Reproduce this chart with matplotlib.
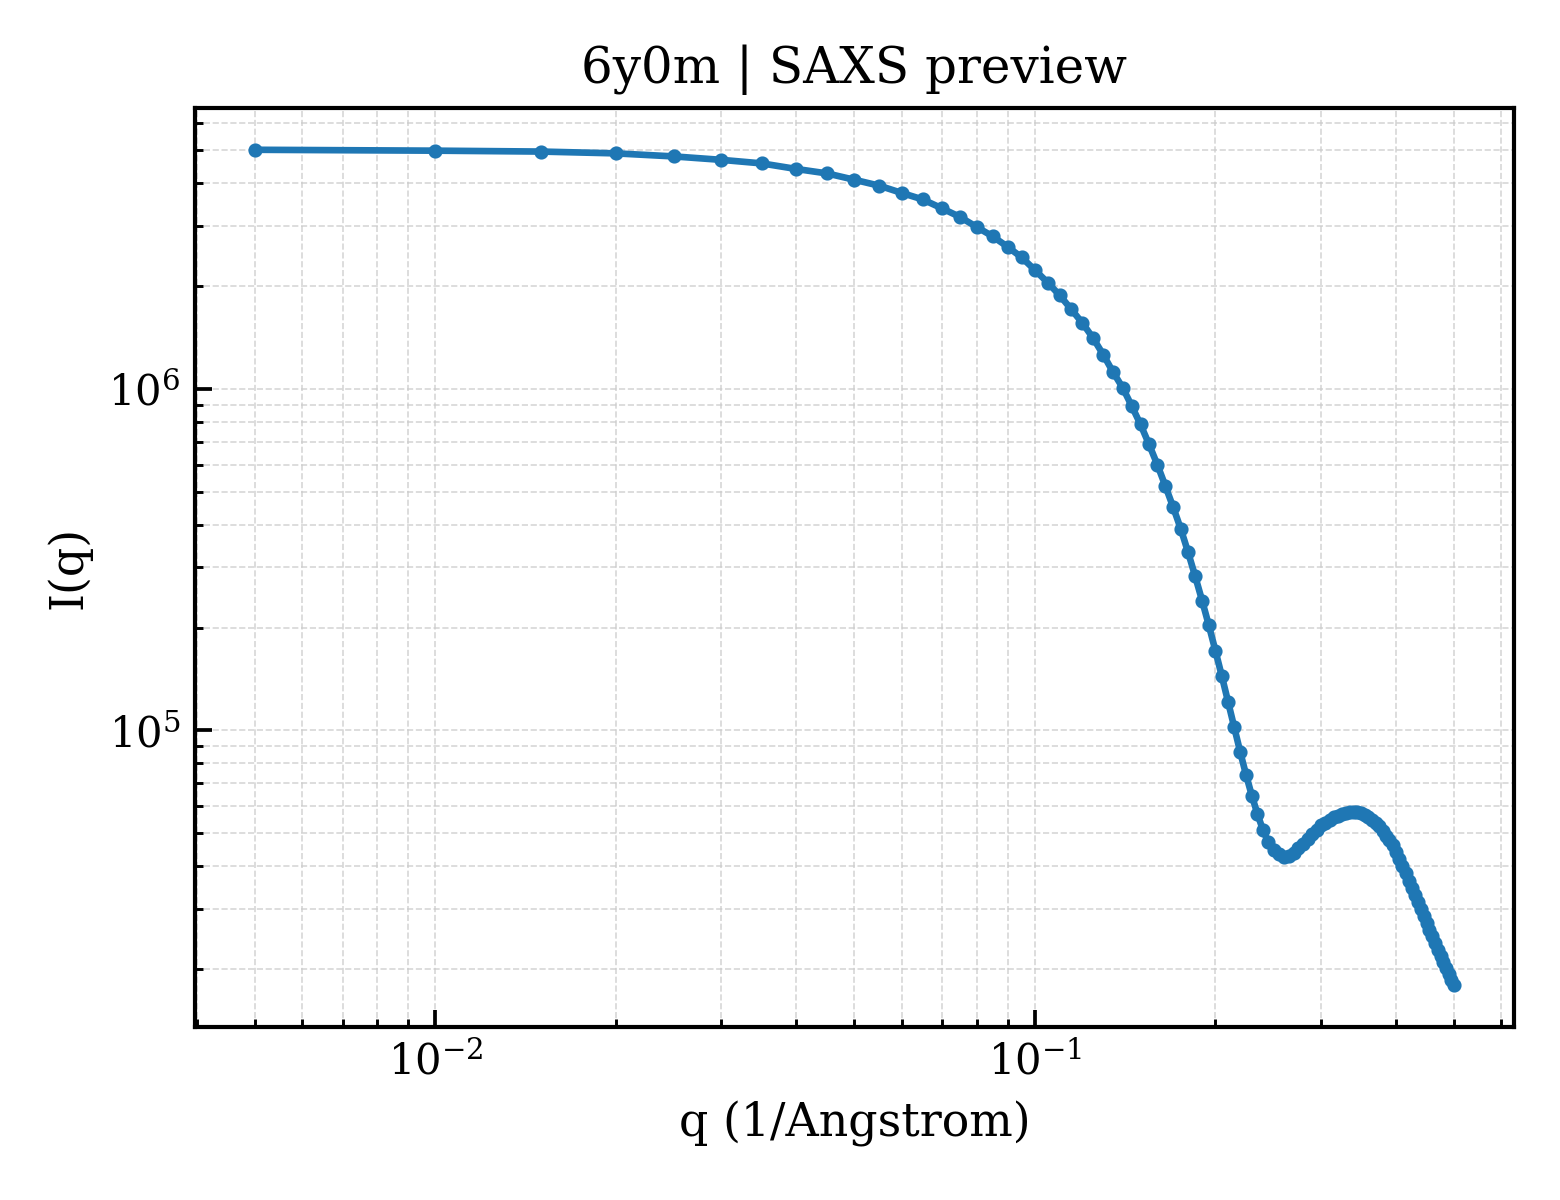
import matplotlib
matplotlib.use("Agg")
import matplotlib.pyplot as plt

plt.rcParams['font.family'] = ['DejaVu Serif']
plt.rcParams['mathtext.fontset'] = 'dejavuserif'
plt.rcParams['font.size'] = 10

q_values = [
    0.005, 0.010, 0.015, 0.020, 0.025, 0.030, 0.035, 0.040, 0.045, 0.050,
    0.055, 0.060, 0.065, 0.070, 0.075, 0.080, 0.085, 0.090, 0.095, 0.100,
    0.105, 0.110, 0.115, 0.120, 0.125, 0.130, 0.135, 0.140, 0.145, 0.150,
    0.155, 0.160, 0.165, 0.170, 0.175, 0.180, 0.185, 0.190, 0.195, 0.200,
    0.205, 0.210, 0.215, 0.220, 0.225, 0.230, 0.235, 0.240, 0.245, 0.250,
    0.255, 0.260, 0.265, 0.270, 0.275, 0.280, 0.285, 0.290, 0.295, 0.300,
    0.305, 0.310, 0.315, 0.320, 0.325, 0.330, 0.335, 0.340, 0.345, 0.350,
    0.355, 0.360, 0.365, 0.370, 0.375, 0.380, 0.385, 0.390, 0.395, 0.400,
    0.405, 0.410, 0.415, 0.420, 0.425, 0.430, 0.435, 0.440, 0.445, 0.450,
    0.455, 0.460, 0.465, 0.470, 0.475, 0.480, 0.485, 0.490, 0.495, 0.500,
]

intensity = [
    5.02e6, 4.99e6, 4.96e6, 4.90e6, 4.80e6, 4.69e6, 4.58e6, 4.41e6, 4.28e6, 4.10e6,
    3.94e6, 3.75e6, 3.59e6, 3.38e6, 3.19e6, 2.98e6, 2.80e6, 2.61e6, 2.43e6, 2.23e6,
    2.05e6, 1.88e6, 1.71e6, 1.56e6, 1.41e6, 1.26e6, 1.12e6, 1.01e6, 8.92e5, 7.87e5,
    6.88e5, 6.00e5, 5.20e5, 4.51e5, 3.90e5, 3.33e5, 2.83e5, 2.40e5, 2.03e5, 1.71e5,
    1.44e5, 1.21e5, 1.02e5, 8.63e4, 7.40e4, 6.44e4, 5.69e4, 5.11e4, 4.71e4, 4.46e4,
    4.33e4, 4.27e4, 4.29e4, 4.37e4, 4.51e4, 4.66e4, 4.82e4, 4.97e4, 5.12e4, 5.27e4,
    5.37e4, 5.46e4, 5.56e4, 5.63e4, 5.69e4, 5.74e4, 5.76e4, 5.77e4, 5.75e4, 5.71e4,
    5.64e4, 5.56e4, 5.46e4, 5.36e4, 5.23e4, 5.07e4, 4.92e4, 4.77e4, 4.60e4, 4.40e4,
    4.20e4, 4.00e4, 3.81e4, 3.62e4, 3.45e4, 3.29e4, 3.14e4, 2.99e4, 2.85e4, 2.72e4,
    2.60e4, 2.49e4, 2.38e4, 2.28e4, 2.18e4, 2.10e4, 2.01e4, 1.93e4, 1.86e4, 1.79e4,
]

title = "6y0m | SAXS preview"
xlabel = "q (1/Angstrom)"
ylabel = "I(q)"

fig = plt.figure(figsize=(5.2, 4.0), dpi=300)
ax = fig.add_axes([0.125, 0.144, 0.8455, 0.766])

ax.plot(q_values, intensity, color="#1f77b4", linewidth=1.6,
        marker="o", markersize=2.4)
ax.set_xscale("log")
ax.set_yscale("log")

ax.set_title(title, fontsize=12)
ax.set_xlabel(xlabel, fontsize=11)
ax.set_ylabel(ylabel, fontsize=11)

ax.grid(True, which="both", linestyle="--", linewidth=0.4, color="#cccccc", alpha=0.8)
ax.tick_params(which="both", direction="in", top=False, right=False, labelsize=10)
ax.tick_params(which="major", length=4, width=0.9)
ax.tick_params(which="minor", length=2, width=0.7)
for s in ax.spines.values():
    s.set_linewidth(1.0)

fig.savefig("out.png", dpi=300)
